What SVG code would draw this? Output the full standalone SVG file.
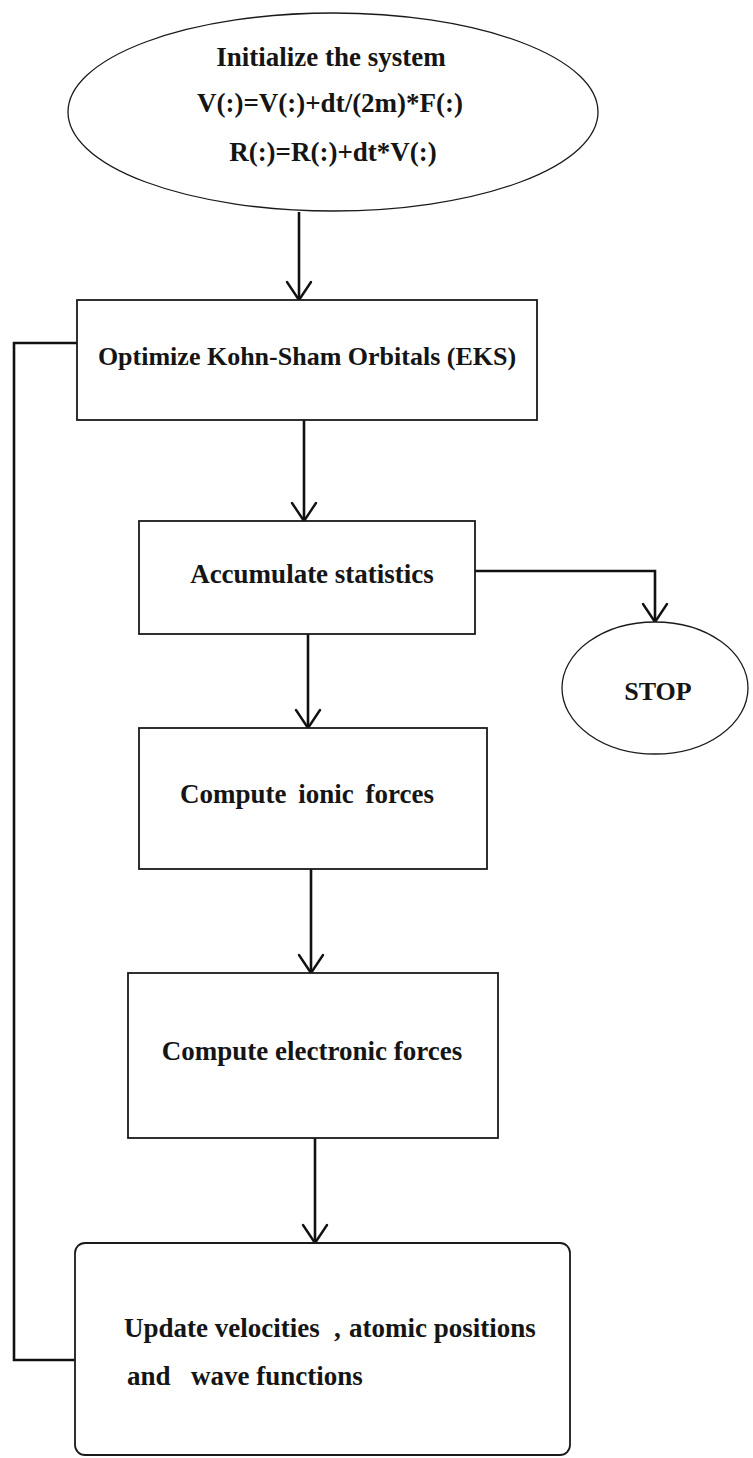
<svg xmlns="http://www.w3.org/2000/svg" width="753" height="1458" viewBox="0 0 753 1458">
<style>
.shape{fill:#fff;stroke:#1a1a1a;stroke-width:1.8}
.thin{fill:#fff;stroke:#1a1a1a;stroke-width:1.3}
.lbl{font-family:"Liberation Serif","Times New Roman",serif;font-weight:bold;font-size:27px;fill:#151515}
.mid{text-anchor:middle}
.conn{fill:none;stroke:#111;stroke-width:2.6}
</style>
<defs>
<marker id="arr" markerUnits="userSpaceOnUse" viewBox="-2 -2 24 28" markerWidth="24" markerHeight="28" refX="18" refY="12" orient="auto" overflow="visible">
<path d="M0,0 L18,12 L0,24" fill="none" stroke="#111" stroke-width="2.4" stroke-linecap="round" stroke-linejoin="round"/>
</marker>
</defs>
<rect width="753" height="1458" fill="#fff"/>
<g id="connectors">
<line class="conn" x1="299" y1="212" x2="299" y2="300" marker-end="url(#arr)"/>
<line class="conn" x1="304" y1="420" x2="304" y2="521" marker-end="url(#arr)"/>
<line class="conn" x1="308" y1="634" x2="308" y2="728" marker-end="url(#arr)"/>
<line class="conn" x1="311" y1="869" x2="311" y2="973" marker-end="url(#arr)"/>
<line class="conn" x1="315" y1="1138" x2="315" y2="1243" marker-end="url(#arr)"/>
<polyline class="conn" points="475,571 655,571 655,622" marker-end="url(#arr)"/>
<polyline class="conn" points="77,343 14,343 14,1360 75,1360"/>
</g>
<g id="start">
<ellipse class="thin" cx="333" cy="112" rx="265" ry="99"/>
<text class="lbl mid" x="331" y="66">Initialize the system</text>
<text class="lbl mid" x="330" y="112">V(:)=V(:)+dt/(2m)*F(:)</text>
<text class="lbl mid" x="333" y="161">R(:)=R(:)+dt*V(:)</text>
</g>
<g id="optimize">
<rect class="shape" x="77" y="300" width="460" height="120"/>
<text class="lbl mid" x="307" y="365" style="font-size:26px">Optimize Kohn-Sham Orbitals (EKS)</text>
</g>
<g id="accumulate">
<rect class="shape" x="139" y="521" width="336" height="113"/>
<text class="lbl mid" x="312" y="583">Accumulate statistics</text>
</g>
<g id="stop">
<ellipse class="thin" cx="655" cy="688" rx="93" ry="66"/>
<text class="lbl mid" x="658" y="700" style="font-size:26px">STOP</text>
</g>
<g id="ionic">
<rect class="shape" x="139" y="728" width="348" height="141"/>
<text class="lbl mid" x="307" y="803" word-spacing="5">Compute ionic forces</text>
</g>
<g id="electronic">
<rect class="shape" x="128" y="973" width="370" height="165"/>
<text class="lbl mid" x="312" y="1060">Compute electronic forces</text>
</g>
<g id="update">
<rect class="shape" x="75" y="1243" width="495" height="212" rx="10" ry="10"/>
<text class="lbl" y="1337"><tspan x="124">Update velocities</tspan><tspan x="334">,</tspan><tspan x="349">atomic positions</tspan></text>
<text class="lbl" y="1385"><tspan x="127">and</tspan><tspan x="191">wave functions</tspan></text>
</g>
</svg>
